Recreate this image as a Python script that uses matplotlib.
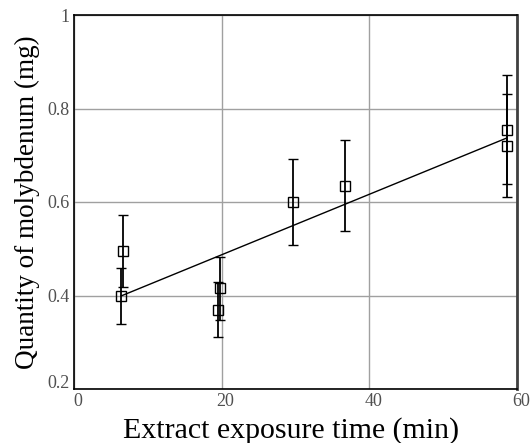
import numpy as np
import matplotlib
matplotlib.use("Agg")
import matplotlib.pyplot as plt
import matplotlib.transforms as mtransforms

# data
time_min = [6.4, 6.6, 19.5, 19.8, 29.7, 36.7, 58.6, 58.6]
molybdenum_mg = [0.398, 0.496, 0.370, 0.415, 0.599, 0.635, 0.720, 0.755]
error_mg = [0.060, 0.077, 0.058, 0.068, 0.092, 0.098, 0.110, 0.116]
x_ticks = [0, 20, 40, 60]
y_ticks = [0.2, 0.4, 0.6, 0.8, 1.0]
y_tick_labels = ["0.2", "0.4", "0.6", "0.8", "1"]

plt.rcParams['font.family'] = ['Liberation Serif', 'DejaVu Serif']

fig = plt.figure(figsize=(5.30, 4.43), dpi=100)
ax = fig.add_axes([74/530, 1-389/443, (517-74)/530, (389-15)/443])

ax.set_xlim(0, 60)
ax.set_ylim(0.2, 1.0)

ax.grid(True, color='#a0a0a0', linewidth=1.0)
ax.set_axisbelow(True)

# regression line
coef = np.polyfit(time_min, molybdenum_mg, 1)
xf = np.array([min(time_min), max(time_min)])
ax.plot(xf, np.polyval(coef, xf), color='black', linewidth=1.0, zorder=3)

ax.errorbar(time_min, molybdenum_mg, yerr=error_mg, fmt='s', markersize=6.5,
            markerfacecolor='none', markeredgecolor='black', markeredgewidth=1.0,
            ecolor='black', elinewidth=1.3, capsize=3.6, capthick=1.3, zorder=4)

ax.set_xticks(x_ticks)
ax.set_yticks(y_ticks)
ax.set_yticklabels(y_tick_labels)
ax.tick_params(length=0, labelsize=13, labelcolor='#505050', pad=3)

for lab in ax.get_xticklabels():
    lab.set_transform(lab.get_transform() + mtransforms.ScaledTranslation(4/100, 0, fig.dpi_scale_trans))
for lab in ax.get_yticklabels():
    if lab.get_text() == "0.2":
        lab.set_transform(lab.get_transform() + mtransforms.ScaledTranslation(0, 7/100, fig.dpi_scale_trans))

for s in ['left', 'bottom', 'top']:
    ax.spines[s].set_color('black')
    ax.spines[s].set_linewidth(1.2)
ax.spines['right'].set_color('#404040')
ax.spines['right'].set_linewidth(2.0)

ax.set_xlabel("Extract exposure time (min)", fontsize=21.5)
ax.set_ylabel("Quantity of molybdenum (mg)", fontsize=19.5)
ax.xaxis.set_label_coords((291-74)/443, -(431-389)/374, transform=ax.transAxes)
ax.xaxis.label.set_va('center')
ax.yaxis.set_label_coords(-(74-27)/443, 0.5, transform=ax.transAxes)
ax.yaxis.label.set_va('center')

fig.savefig("out.png", dpi=100)
